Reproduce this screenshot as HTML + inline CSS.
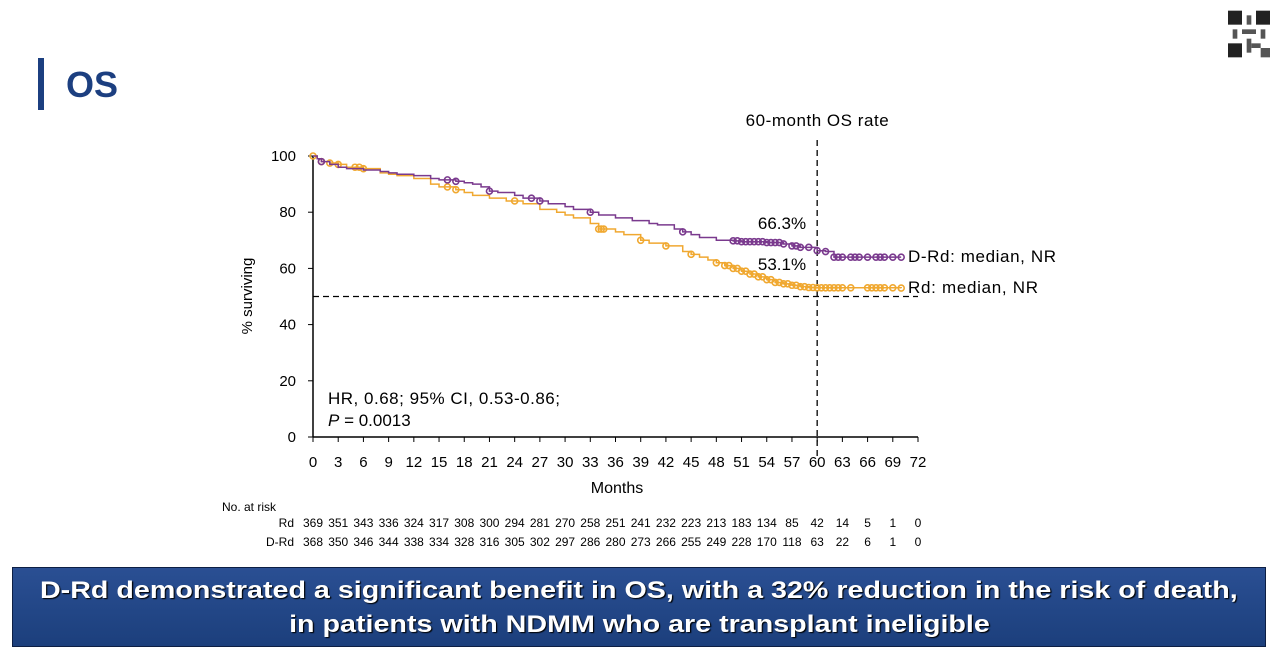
<!DOCTYPE html>
<html><head><meta charset="utf-8"><style>
body{margin:0;width:1280px;height:650px;background:#fff;overflow:hidden;font-family:"Liberation Sans",sans-serif;position:relative}
#bar{position:absolute;left:38px;top:58px;width:6px;height:52px;background:#1c3f80}
#title{position:absolute;left:66px;top:64px;font-size:36px;font-weight:bold;color:#1c3f80}
#banner{position:absolute;left:12px;top:567px;width:1254px;height:80px;background:linear-gradient(#2a4f93,#1c3f7c);border:1px solid #0d1f44;color:#fff;font-weight:bold;font-size:24.5px;text-align:center;line-height:34px;padding-top:6px;box-sizing:border-box;text-shadow:1px 1px 1px #000;white-space:nowrap}
#banner span{display:inline-block;transform:scaleX(1.17)}
#qr{position:absolute;left:1228px;top:10px;width:42px;height:48px}
</style></head><body>
<div id="bar"></div>
<div id="title">OS</div>
<svg id="qr" viewBox="0 0 9 10"><rect width="9" height="10" fill="#fff"/><rect x="0" y="0" width="3" height="3" fill="#222"/><rect x="6" y="0" width="3" height="3" fill="#222"/><rect x="0" y="7" width="3" height="3" fill="#222"/><rect x="4" y="1" width="1" height="2" fill="#555"/><rect x="3" y="4" width="3" height="1" fill="#555"/><rect x="5" y="7" width="2" height="1" fill="#555"/><rect x="7" y="4" width="1" height="2" fill="#555"/><rect x="4" y="6" width="1" height="3" fill="#555"/><rect x="1" y="4" width="1" height="2" fill="#555"/><rect x="7" y="8" width="2" height="2" fill="#555"/></svg>
<svg id="chart" width="1280" height="650" style="position:absolute;left:0;top:0" font-family="Liberation Sans, sans-serif"></svg>
<div id="banner"><span>D-Rd demonstrated a significant benefit in OS, with a 32% reduction in the risk of death,</span><br><span>in patients with NDMM who are transplant ineligible</span></div>
<script>
const xTicks=[0,3,6,9,12,15,18,21,24,27,30,33,36,39,42,45,48,51,54,57,60,63,66,69,72];
const yTicks=[0,20,40,60,80,100];
const drdMonths=[0,0.5,1,2,3,4,6,8,9,10,12,14,15,17,18,19,20,21,22,24,25,27,28,30,31,33,34,36,38,40,41,43,44,45,46,48,50,51,54,56,57,58,60,61,62,70];
const drdSurv=[100,99,98,97,96,95.5,95,94.5,94,93.5,93,92,91.5,91,90.5,90,89,87.5,87,86,85,84,83,82,81,80,79,78,77,76,75.5,74,73,72,71,70,69.8,69.5,69.2,68.7,68,67.5,66.3,66,64,64];
const rdMonths=[0,0.5,1,2,3,4,6,8,9,10,12,14,15,17,18,19,21,23,25,27,29,30,31,33,34,36,37,39,40,42,44,45,46,47,48,49,50,51,52,53,54,55,56,57,58,59,60,70];
const rdSurv=[100,99,98,97.5,97,96,95.5,94,93.5,93,92,90,89,88,87,86,85,84,83,81,80,79,78,76,74,73,72,70,69,68,66,65,64,63,62,61,60,59,58,57,56,55,54.5,54,53.5,53.2,53.1,53];
const drdCens=[1,16,17,21,26,27,33,44,50,50.5,51,51.5,52,52.5,53,53.5,54,54.5,55,55.5,56,57,57.5,58,59,60,61,62,62.5,63,64,64.5,65,66,67,67.5,68,69,70];
const rdCens=[0,1,2,3,5,5.5,6,16,17,24,34,34.3,34.6,39,42,45,48,49,49.5,50,50.5,51,51.5,52,52.5,53,53.5,54,54.5,55,55.5,56,56.5,57,57.5,58,58.5,59,59.5,60,60.5,61,61.5,62,62.5,63,64,66,66.5,67,67.5,68,69,70];
const riskRd=[369,351,343,336,324,317,308,300,294,281,270,258,251,241,232,223,213,183,134,85,42,14,5,1,0];
const riskDRd=[368,350,346,344,338,334,328,316,305,302,297,286,280,273,266,255,249,228,170,118,63,22,6,1,0];
const X=m=>313+m*(918-313)/72, Y=v=>437-v*2.81;
const svg=document.getElementById('chart'), NS='http://www.w3.org/2000/svg';
function mk(t,a,txt){const e=document.createElementNS(NS,t);for(const k in a)if(a[k]!==null)e.setAttribute(k,a[k]);if(txt!==undefined)e.textContent=txt;svg.appendChild(e);return e;}
function stepVal(ms,vs,m){let v=vs[0];for(let i=0;i<ms.length;i++){if(ms[i]<=m)v=vs[i];}return v;}
let e;
e=mk('line',{x1:X(0),y1:Y(0),x2:X(72),y2:Y(0),stroke:'#000','stroke-width':1.5});

e=mk('line',{x1:X(0),y1:Y(0),x2:X(0),y2:Y(100),stroke:'#000','stroke-width':1.5});

xTicks.forEach(t=>{mk('line',{x1:X(t),y1:Y(0),x2:X(t),y2:Y(0)+5,stroke:'#000'});
e=mk('text',{x:X(t),y:467,'font-size':15,'text-anchor':'middle'},t);
});
yTicks.forEach(t=>{mk('line',{x1:X(0)-5,y1:Y(t),x2:X(0),y2:Y(t),stroke:'#000'});
e=mk('text',{x:296,y:Y(t)+5,'font-size':15,'text-anchor':'end'},t);
});
e=mk('text',{x:617,y:493,'font-size':16,'text-anchor':'middle'},'Months');

e=mk('text',{x:252,y:296,'font-size':15,'text-anchor':'middle',transform:'rotate(-90 252 296)'},'% surviving');

e=mk('line',{x1:X(0),y1:Y(50),x2:X(72),y2:Y(50),stroke:'#000','stroke-dasharray':'6,4','stroke-width':1.3});

e=mk('line',{x1:X(60),y1:140,x2:X(60),y2:Y(0)+20,stroke:'#000','stroke-dasharray':'6,4','stroke-width':1.3});

e=mk('text',{x:X(60),y:126,'font-size':17,'text-anchor':'middle',textLength:143},'60-month OS rate');

function curve(ms,vs,cens,col,name){
 let d=`M${X(ms[0])},${Y(vs[0])}`;
 for(let i=1;i<ms.length;i++){d+=`H${X(ms[i])}V${Y(vs[i])}`;}
 const p=mk('path',{d:d,fill:'none',stroke:col,'stroke-width':1.5});
 
 cens.forEach(m=>{const c=mk('circle',{cx:X(m),cy:Y(stepVal(ms,vs,m)),r:3,fill:'none',stroke:col,'stroke-width':1.6});
 });
}
curve(rdMonths,rdSurv,rdCens,'#f0a830','rd');
curve(drdMonths,drdSurv,drdCens,'#7a3a8e','drd');
e=mk('text',{x:782,y:229,'font-size':17,'text-anchor':'middle'},'66.3%');

e=mk('text',{x:782,y:270,'font-size':17,'text-anchor':'middle'},'53.1%');

e=mk('text',{x:908,y:262,'font-size':17,textLength:148},'D-Rd: median, NR');

e=mk('text',{x:908,y:293,'font-size':17,textLength:130},'Rd: median, NR');

e=mk('text',{x:328,y:404,'font-size':17,textLength:232},'HR, 0.68; 95% CI, 0.53-0.86;');

e=mk('text',{x:328,y:426,'font-size':17},'');
e.innerHTML='<tspan font-style="italic">P</tspan> = 0.0013';

e=mk('text',{x:222,y:511,'font-size':12},'No. at risk');

e=mk('text',{x:294,y:527,'font-size':12,'text-anchor':'end'},'Rd');

e=mk('text',{x:294,y:546,'font-size':12,'text-anchor':'end'},'D-Rd');

xTicks.forEach((t,i)=>{
 e=mk('text',{x:X(t),y:527,'font-size':12,'text-anchor':'middle'},riskRd[i]);
 
 e=mk('text',{x:X(t),y:546,'font-size':12,'text-anchor':'middle'},riskDRd[i]);
 
});
</script>
</body></html>
